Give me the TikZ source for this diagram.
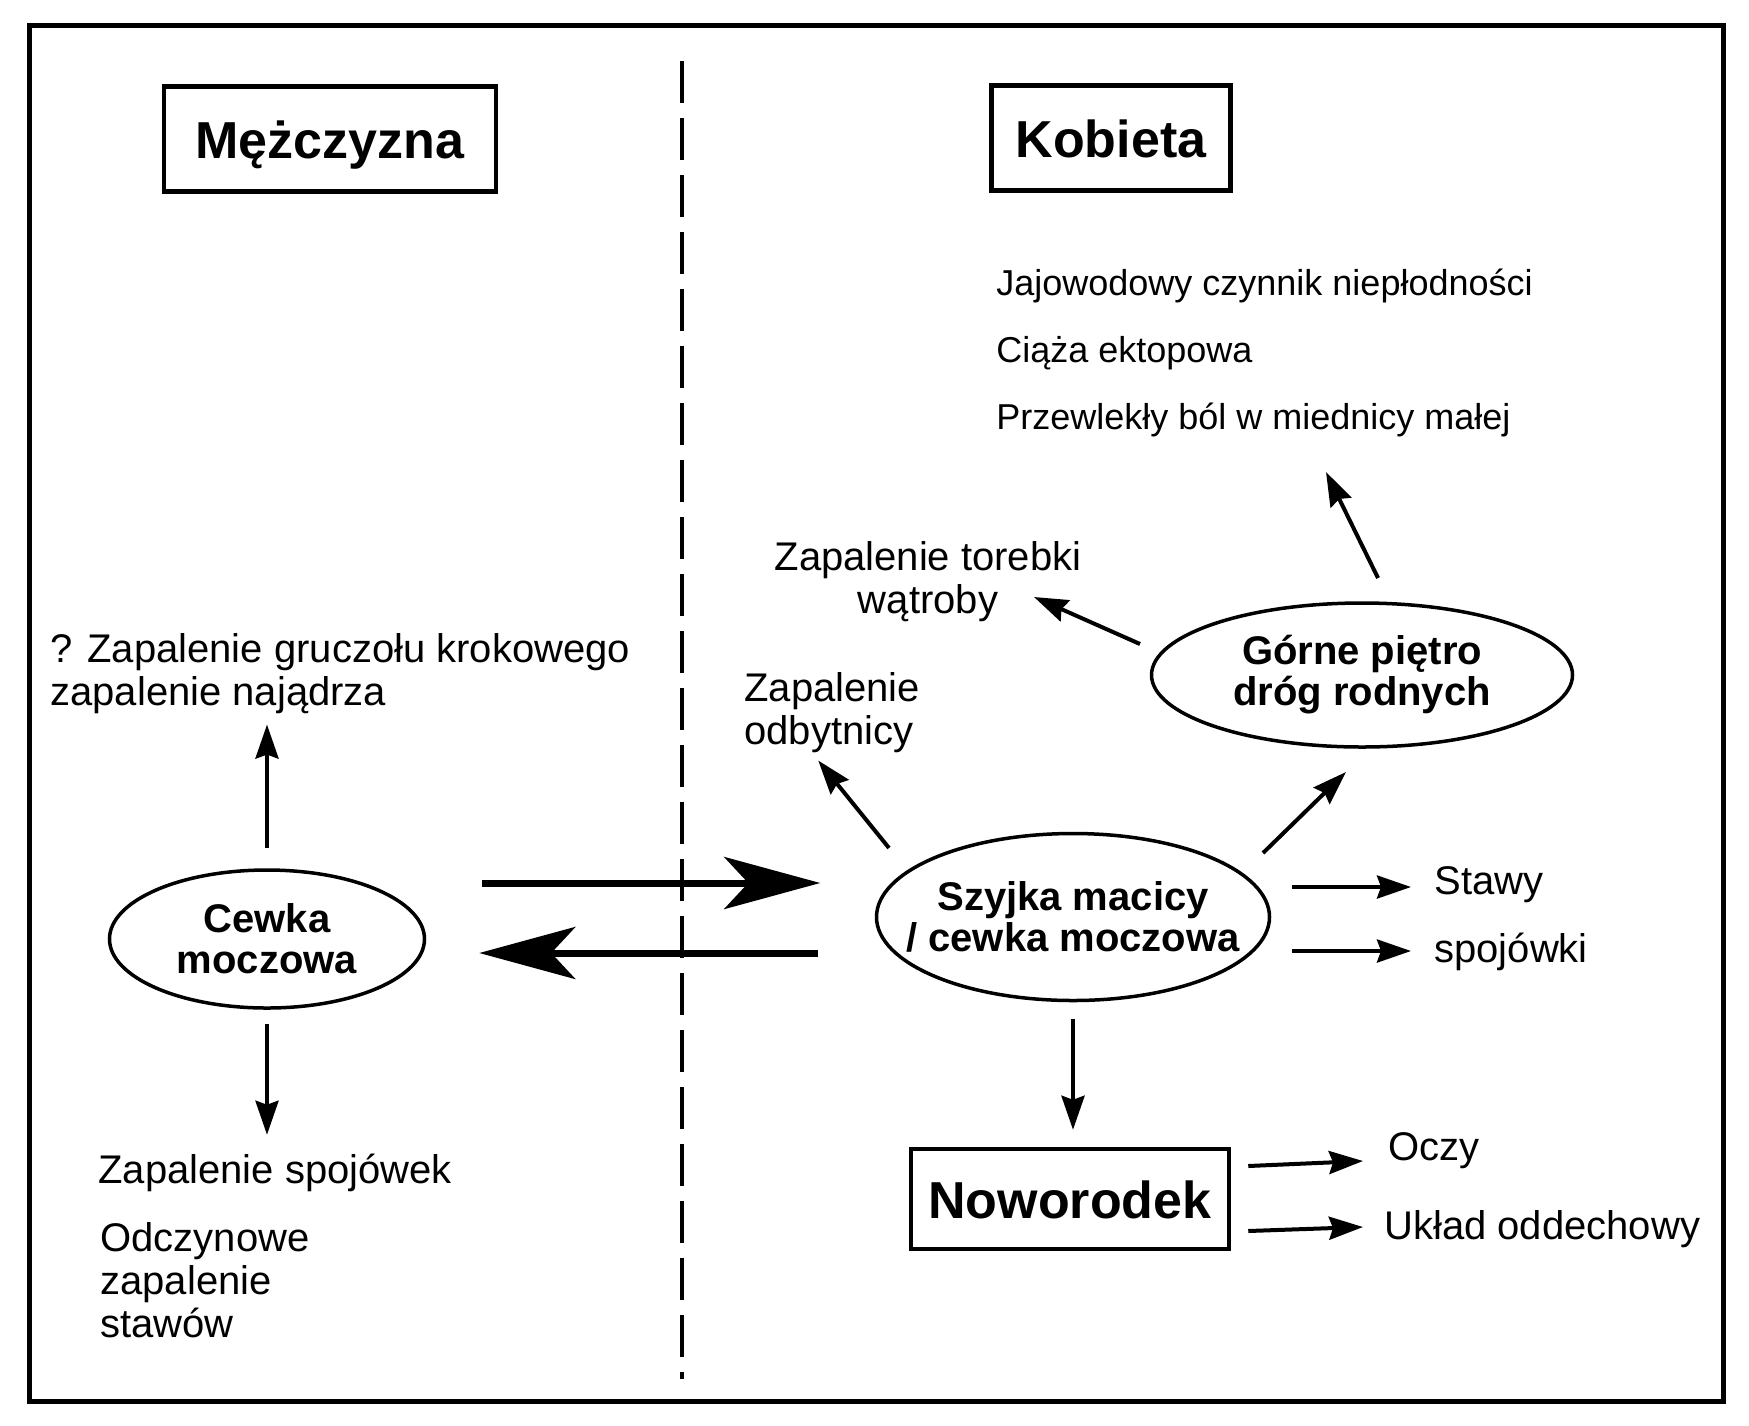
\documentclass[tikz,border=0pt]{standalone}
\usepackage{fontspec}
\setmainfont{Liberation Sans}
\usetikzlibrary{shapes.geometric,arrows.meta}

\begin{document}
\begin{tikzpicture}[x=0.5pt,y=-0.5pt,
  box/.style={draw, line width=2.25pt, inner sep=0pt, text height=19pt, text depth=0pt, font=\fontsize{26}{30}\selectfont\bfseries},
  oval/.style={ellipse, draw, line width=1.75pt, inner sep=0pt, align=center, font=\fontsize{20}{20.5}\selectfont\bfseries},
  txt/.style={inner sep=0pt, align=left, font=\fontsize{20}{21.5}\selectfont},
  arr/.style={line width=2pt, -{Stealth[length=17pt,width=11.5pt,inset=2pt]}},
  bigarr/.style={line width=3.5pt, -{Stealth[length=48pt,width=26pt,inset=12pt]}}]
  \useasboundingbox (0,0) rectangle (1749,1425);
  % frame and divider
  \draw[line width=2.5pt] (29,25) rectangle (1723,1401);
  \draw[line width=2pt, dash pattern=on 21pt off 7.5pt] (682,61) -- (682,1379);

  % headings
  \node[box, minimum width=166pt, minimum height=52.5pt] (men) at (330,139) {Mężczyzna};
  \node[box, minimum width=119.5pt, minimum height=52.5pt] (women) at (1111,138) {Kobieta};
  \node[box, minimum width=159pt, minimum height=50pt] (newborn) at (1070,1199) {Noworodek};

  % sites of infection
  \node[oval, minimum width=157.5pt, minimum height=69pt] (cewka) at (267,939) {Cewka\\moczowa};
  \node[oval, inner xsep=-16pt, minimum width=196.5pt, minimum height=83.5pt] (szyjka) at (1073,917) {Szyjka macicy\\/ cewka moczowa};
  \node[oval, minimum width=210.5pt, minimum height=72pt] (gorne) at (1362,675) {Górne piętro\\dróg rodnych};

  % complications
  \node[txt, anchor=west] (prost) at (50,674) {? Zapalenie gruczołu krokowego\\zapalenie najądrza};
  \node[txt, anchor=west] (spojm) at (98,1173) {Zapalenie spojówek};
  \node[txt, anchor=west] (odczyn) at (100,1280) {Odczynowe\\zapalenie\\stawów};
  \node[txt, anchor=west] (odbyt) at (744,713) {Zapalenie\\odbytnicy};
  \node[txt, align=center] (torebka) at (928,582) {Zapalenie torebki\\wątroby};
  \node[txt, anchor=west, font=\fontsize{18}{33.5}\selectfont] (powiklania) at (996,353) {Jajowodowy czynnik niepłodności\\Ciąża ektopowa\\Przewlekły ból w miednicy małej};
  \node[txt, anchor=west] (stawy) at (1434,885) {Stawy};
  \node[txt, anchor=west] (spojowki) at (1434,952) {spojówki};
  \node[txt, anchor=west] (oczy) at (1388,1151) {Oczy};
  \node[txt, anchor=west] (uklad) at (1384,1229) {Układ oddechowy};

  % arrows
  \draw[arr, shorten <=10pt, shorten >=5pt] (cewka.north) -- (cewka.north |- prost.south);
  \draw[arr, shorten <=7pt, shorten >=9.5pt] (cewka.south) -- (cewka.south |- spojm.north);
  \draw[bigarr, shorten <=28pt, shorten >=27.25pt] ([yshift=28pt]cewka.east) -- ([yshift=17pt]szyjka.west);
  \draw[bigarr, shorten <=28.25pt, shorten >=26.5pt] ([yshift=-18pt]szyjka.west) -- ([yshift=-7pt]cewka.east);
  \draw[arr] ([shift={(-184,-69)}]szyjka.center) -- ([shift={(-14,7)}]odbyt.south);
  \draw[arr] ([shift={(190,-64)}]szyjka.center) -- ([shift={(-16,97)}]gorne.center);
  \draw[arr] ([shift={(-222,-31)}]gorne.center) -- ([shift={(106,15)}]torebka.center);
  \draw[arr] ([shift={(16,-97)}]gorne.center) -- ([shift={(330,119)}]powiklania.west);
  \draw[arr] ([shift={(219,-30)}]szyjka.center) -- ([shift={(-23,2)}]stawy.west);
  \draw[arr] ([shift={(219,34)}]szyjka.center) -- ([shift={(-23,-1)}]spojowki.west);
  \draw[arr, shorten <=8.25pt, shorten >=8.5pt] (szyjka.south) -- (szyjka.south |- newborn.north);
  \draw[arr] ([shift={(17,-33)}]newborn.east) -- ([shift={(-25,10)}]oczy.west);
  \draw[arr] ([shift={(17,32)}]newborn.east) -- ([shift={(-21,-2)}]uklad.west);
\end{tikzpicture}
\end{document}
